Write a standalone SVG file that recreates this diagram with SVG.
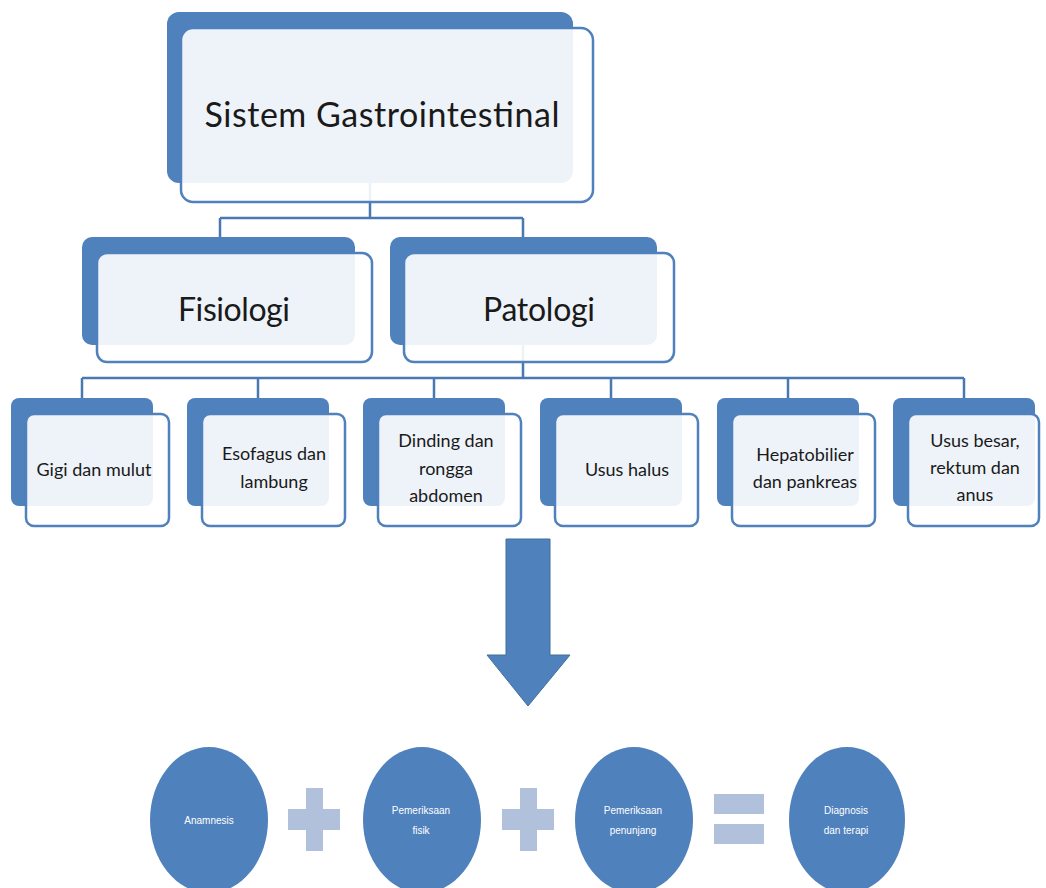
<svg xmlns="http://www.w3.org/2000/svg" width="1046" height="888" viewBox="0 0 1046 888">
<style>
.back{fill:#4F81BD;}
.front{fill:#FFFFFF;fill-opacity:0.9;stroke:#4F81BD;stroke-width:2.5;}
.t{font-family:Lato,"Liberation Sans",sans-serif;fill:#1A1A1A;text-anchor:middle;}
.big{font-size:34px;}
.mid{font-size:32px;}
.sm{font-size:18px;}
.conn{fill:none;stroke:#4A78B0;stroke-width:2.5;}
.circ{fill:#4F81BD;}
.ct{font-family:"Liberation Sans",sans-serif;font-size:10px;fill:#FFFFFF;text-anchor:middle;}
.op{fill:#B1C1DC;}
</style>
<rect width="1046" height="888" fill="#FFFFFF"/>
<g id="connectors">
<path class="conn" d="M370 183 V218 M220 218 H523 M220 218 V238 M523 218 V238"/>
<path class="conn" d="M523 345 V378 M82 378 H964 M82 378 V398 M258 378 V398 M434 378 V398 M611 378 V398 M788 378 V398 M964 378 V398"/>
</g>
<g id="node-sistem">
<rect class="back" x="167" y="12" width="406" height="171" rx="12"/>
<rect class="front" x="181" y="28" width="412" height="174" rx="12"/>
<text class="t big" x="382" y="127" textLength="355">Sistem Gastrointestinal</text>
</g>
<g id="node-fisiologi">
<rect class="back" x="82" y="237" width="273" height="108" rx="10"/>
<rect class="front" x="97" y="253" width="275" height="109" rx="10"/>
<text class="t mid" x="234" y="321" textLength="112">Fisiologi</text>
</g>
<g id="node-patologi">
<rect class="back" x="390" y="237" width="267" height="108" rx="10"/>
<rect class="front" x="404" y="253" width="270" height="109" rx="10"/>
<text class="t mid" x="539" y="321" textLength="112">Patologi</text>
</g>
<g id="node-gigi">
<rect class="back" x="11" y="398" width="142" height="108" rx="8"/>
<rect class="front" x="26" y="414" width="143" height="112" rx="8"/>
<text class="t sm" x="94" y="476">Gigi dan mulut</text>
</g>
<g id="node-esofagus">
<rect class="back" x="187" y="398" width="142" height="108" rx="8"/>
<rect class="front" x="202" y="414" width="143" height="112" rx="8"/>
<text class="t sm" x="274" y="460">Esofagus dan</text>
<text class="t sm" x="274" y="488">lambung</text>
</g>
<g id="node-dinding">
<rect class="back" x="363" y="398" width="142" height="108" rx="8"/>
<rect class="front" x="378" y="414" width="143" height="112" rx="8"/>
<text class="t sm" x="446" y="447">Dinding dan</text>
<text class="t sm" x="446" y="475">rongga</text>
<text class="t sm" x="446" y="502">abdomen</text>
</g>
<g id="node-usushalus">
<rect class="back" x="540" y="398" width="142" height="108" rx="8"/>
<rect class="front" x="555" y="414" width="143" height="112" rx="8"/>
<text class="t sm" x="627" y="476">Usus halus</text>
</g>
<g id="node-hepatobilier">
<rect class="back" x="717" y="398" width="142" height="108" rx="8"/>
<rect class="front" x="732" y="414" width="143" height="112" rx="8"/>
<text class="t sm" x="805" y="461">Hepatobilier</text>
<text class="t sm" x="805" y="488">dan pankreas</text>
</g>
<g id="node-ususbesar">
<rect class="back" x="893" y="398" width="142" height="108" rx="8"/>
<rect class="front" x="908" y="414" width="131" height="112" rx="8"/>
<text class="t sm" x="975" y="447">Usus besar,</text>
<text class="t sm" x="975" y="474">rektum dan</text>
<text class="t sm" x="975" y="501">anus</text>
</g>
<g id="arrow">
<path d="M506 539 H550 V655 H570 L528 706 L487 655 H506 Z" fill="#4F81BD" stroke="#41719C" stroke-width="1"/>
</g>
<g id="node-anamnesis">
<ellipse class="circ" cx="209" cy="820" rx="59" ry="73"/>
<text class="ct" x="209" y="824">Anamnesis</text>
</g>
<g id="plus1">
<rect class="op" x="306" y="788" width="17" height="63"/>
<rect class="op" x="288" y="809" width="52" height="21"/>
</g>
<g id="node-fisik">
<ellipse class="circ" cx="422" cy="820" rx="59" ry="73"/>
<text class="ct" x="421" y="814">Pemeriksaan</text>
<text class="ct" x="421" y="834">fisik</text>
</g>
<g id="plus2">
<rect class="op" x="520" y="788" width="17" height="63"/>
<rect class="op" x="502" y="809" width="52" height="21"/>
</g>
<g id="node-penunjang">
<ellipse class="circ" cx="634" cy="820" rx="59" ry="73"/>
<text class="ct" x="633" y="814">Pemeriksaan</text>
<text class="ct" x="633" y="834">penunjang</text>
</g>
<g id="equals">
<rect class="op" x="714" y="794" width="50" height="20"/>
<rect class="op" x="714" y="824" width="50" height="20"/>
</g>
<g id="node-diagnosis">
<ellipse class="circ" cx="847" cy="820" rx="58" ry="73"/>
<text class="ct" x="846" y="814">Diagnosis</text>
<text class="ct" x="846" y="834">dan terapi</text>
</g>
</svg>
